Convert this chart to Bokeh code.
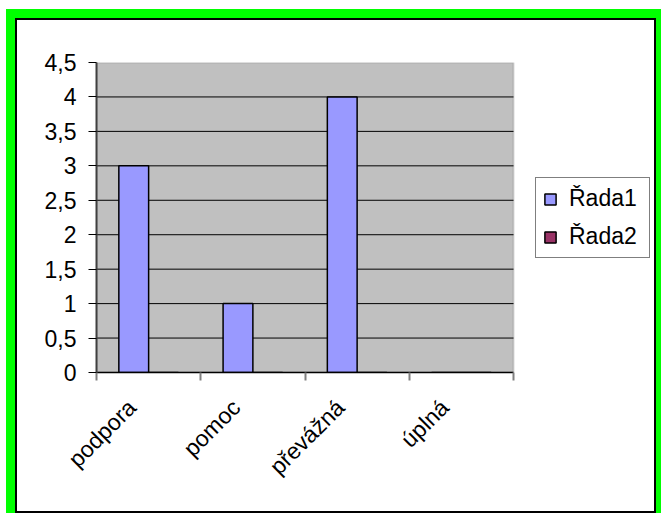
from math import pi
from bokeh.plotting import figure
from bokeh.models import Range1d, FixedTicker, Legend, LegendItem, BoxAnnotation
from bokeh.embed import file_html
from bokeh.resources import INLINE

categories = ["podpora", "pomoc", "převážná", "úplná"]
series_names = ["Řada1", "Řada2"]
rada1 = [3, 1, 4, 0]
rada2 = [0, 0, 0, 0]
y_ticks = [0.0, 0.5, 1.0, 1.5, 2.0, 2.5, 3.0, 3.5, 4.0, 4.5]
y_tick_labels = ["0", "0,5", "1", "1,5", "2", "2,5", "3", "3,5", "4", "4,5"]
colors = ["#9999FF", "#993366"]

FONT = "Liberation Sans"
FS = "23px"
n = len(categories)
y_max = y_ticks[-1]
bar_w = 1 / 3.5
label_shift = 0.16   # rotated labels sit slightly left of the category centre
centers = [i + 0.5 for i in range(n)]
label_pos = [c - label_shift for c in centers]
bounds = [float(i) for i in range(n + 1)]

PLOT_W = 417      # pixel width of the grey plot area
FRAME_W = 556     # frame also holds the legend to the right of the grey area
p = figure(frame_width=FRAME_W, frame_height=310,
           x_range=Range1d(0, n * FRAME_W / PLOT_W), y_range=Range1d(0, y_max),
           output_backend="svg", toolbar_location=None,
           min_border_left=79, min_border_top=42, min_border_bottom=139, min_border_right=2)
p.margin = (20, 0, -20, 17)
p.styles = {"box-shadow": "0 0 0 2px #000000, 0 0 0 11px #00ff00"}
p.border_fill_color = "white"
p.background_fill_color = "white"
p.outline_line_color = None

p.add_layout(BoxAnnotation(left=0, right=n, bottom=0, top=y_max, fill_color="#C0C0C0",
                           fill_alpha=1, line_color="#808080", line_width=2, level="underlay"))

grid_y = y_ticks[1:-1]
p.segment(x0=[0] * len(grid_y), x1=[n] * len(grid_y), y0=grid_y, y1=grid_y,
          line_color="black", line_width=1)

renderers = []
for k, vals in enumerate([rada1, rada2]):
    xs = [c + (k - 0.5) * bar_w for c in centers]
    r = p.vbar(x=xs, top=vals, bottom=0, width=bar_w, fill_color=colors[k],
               line_color="black", line_width=1.5)
    renderers.append(r)

p.xgrid.visible = False
p.ygrid.visible = False

ya = p.yaxis[0]
ya.ticker = FixedTicker(ticks=y_ticks)
ya.major_label_overrides = {t: s for t, s in zip(y_ticks, y_tick_labels)}
ya.major_tick_out = 8
ya.major_tick_in = 0
ya.minor_tick_line_color = None
ya.major_tick_line_color = "black"
ya.axis_line_color = "#404040"
ya.axis_line_width = 2
ya.major_label_text_font = FONT
ya.major_label_text_font_size = FS
ya.major_label_text_color = "black"
ya.major_label_standoff = 12

xa = p.xaxis[0]
xa.bounds = (0, n)
xa.ticker = FixedTicker(ticks=label_pos, minor_ticks=bounds)
xa.major_label_overrides = {c: s for c, s in zip(label_pos, categories)}
xa.major_tick_out = 0
xa.major_tick_in = 0
xa.minor_tick_out = 8
xa.minor_tick_in = 0
xa.minor_tick_line_color = "#808080"
xa.minor_tick_line_width = 2
xa.axis_line_color = "black"
xa.axis_line_width = 1.5
xa.major_label_orientation = pi / 4
xa.major_label_text_font = FONT
xa.major_label_text_font_size = FS
xa.major_label_text_color = "black"
xa.major_label_standoff = 23

legend = Legend(items=[LegendItem(label=nm, renderers=[r]) for nm, r in zip(series_names, renderers)],
                location=(439, 114), margin=0, padding=7, spacing=11,
                glyph_width=14, glyph_height=14, label_standoff=12,
                label_width=73,
                label_text_font=FONT, label_text_font_size=FS, label_text_color="black",
                border_line_color="black", border_line_width=1,
                background_fill_color="white", background_fill_alpha=1)
p.add_layout(legend, "center")

open("out.html", "w").write(file_html(p, INLINE))
